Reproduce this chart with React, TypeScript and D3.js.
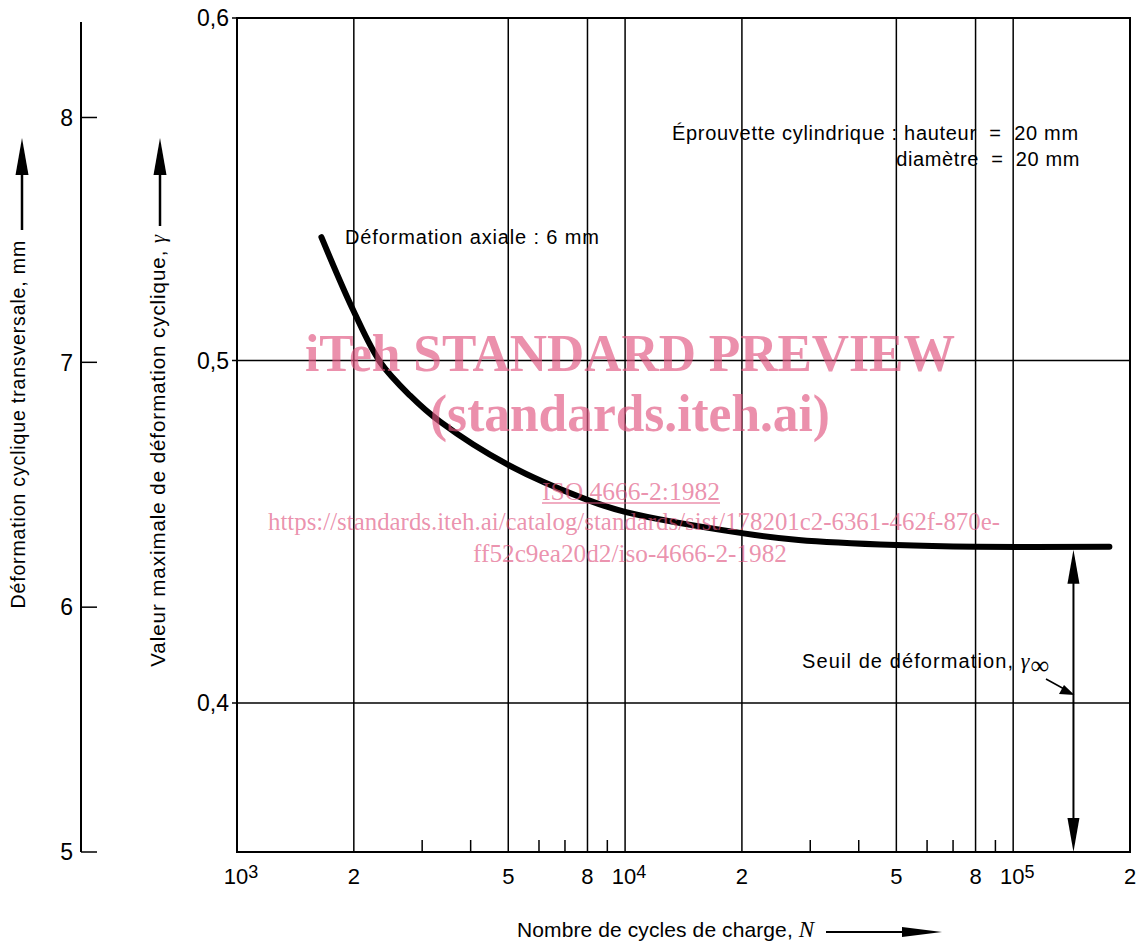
import { useEffect } from 'react'
import * as d3 from 'd3'

// curve: number of cycles N vs maximum cyclic strain γ
const cycles = [1650, 2000, 2340, 2790, 3330, 5000, 8000, 10000, 20000, 28000, 50000, 80000, 177000]
const gamma = [0.536, 0.5143, 0.4995, 0.4898, 0.4822, 0.4695, 0.4593, 0.4558, 0.4496, 0.4476, 0.4461, 0.4456, 0.4456]

const gridN = [2000, 5000, 8000, 10000, 20000, 50000, 80000, 100000]
const minorN = [3000, 4000, 6000, 7000, 9000, 30000, 40000, 60000, 70000, 90000]
const xLabels = [
  { v: 1000, t: '10', sup: '3' },
  { v: 2000, t: '2' },
  { v: 5000, t: '5' },
  { v: 8000, t: '8' },
  { v: 10000, t: '10', sup: '4' },
  { v: 20000, t: '2' },
  { v: 50000, t: '5' },
  { v: 80000, t: '8' },
  { v: 100000, t: '10', sup: '5' },
  { v: 200000, t: '2' },
]
const gammaTicks = [0.4, 0.5, 0.6]
const mmTicks = [5, 6, 7, 8]
const gammaInf = 0.4456
const gammaInfN = 143000

const W = 1140
const H = 946
const sans = '"Liberation Sans", Arial, Helvetica, sans-serif'
const serif = '"Liberation Serif", "Times New Roman", serif'
const wm = '#e0557f'

export default function App() {
  useEffect(() => {
    document.body.style.margin = '0'
  }, [])

  const x = d3.scaleLog().domain([1000, 200000]).range([237, 1130])
  const y = d3.scaleLinear().domain([0.3565, 0.6]).range([852, 18])
  const yMm = d3.scaleLinear().domain([5, 8.39]).range([852, 22])

  const pts: [number, number][] = cycles.map((n, i) => [x(n), y(gamma[i])])
  const curve = d3.line().curve(d3.curveCatmullRom.alpha(0.5))(pts) ?? ''

  const [x0, x1] = x.range()
  const [yb, yt] = y.range()
  const xa = x(gammaInfN)
  const ya = y(gammaInf)

  const tri = (cx: number, tip: number, dir: number, w = 6, h = 34) =>
    `M${cx},${tip} L${cx - w},${tip + dir * h} L${cx + w},${tip + dir * h} Z`

  return (
    <svg width={W} height={H} style={{ display: 'block', background: '#fff' }} fontFamily={sans}>
      {/* left mm axis */}
      <line x1={81} x2={81} y1={yMm(8.39)} y2={yMm(5)} stroke="#000" strokeWidth={2} />
      {mmTicks.map((t) => (
        <g key={t}>
          <line x1={81} x2={97} y1={yMm(t)} y2={yMm(t)} stroke="#000" strokeWidth={1.5} />
          <text x={73} y={yMm(t)} dy="0.36em" textAnchor="end" fontSize={23}>{t}</text>
        </g>
      ))}

      {/* grid */}
      {gridN.map((n) => (
        <line key={n} x1={x(n)} x2={x(n)} y1={yt} y2={yb} stroke="#000" strokeWidth={1.5} />
      ))}
      {minorN.map((n) => (
        <line key={n} x1={x(n)} x2={x(n)} y1={yb - 12} y2={yb} stroke="#000" strokeWidth={1.5} />
      ))}
      {gammaTicks.map((g) => (
        <g key={g}>
          <line x1={x0 - 5} x2={x1} y1={y(g)} y2={y(g)} stroke="#000" strokeWidth={1.5} />
          <text x={229} y={y(g)} dy="0.36em" textAnchor="end" fontSize={23}>{String(g).replace('.', ',')}</text>
        </g>
      ))}
      <rect x={x0} y={yt} width={x1 - x0} height={yb - yt} fill="none" stroke="#000" strokeWidth={2} />

      {/* x labels */}
      {xLabels.map((l) => (
        <text key={l.v} x={x(l.v) + (l.sup ? 4 : 0)} y={884} textAnchor="middle" fontSize={22}>
          {l.t}
          {l.sup && <tspan fontSize={18} dy={-6}>{l.sup}</tspan>}
        </text>
      ))}

      {/* axis titles */}
      <text x={517} y={937} fontSize={21} letterSpacing={0.1}>
        Nombre de cycles de charge, <tspan fontFamily={serif} fontStyle="italic" fontSize={23}>N</tspan>
      </text>
      <line x1={826} x2={905} y1={932} y2={932} stroke="#000" strokeWidth={2} />
      <path d="M942,932 L902,927 L902,937 Z" fill="#000" />

      <text transform="translate(25,240) rotate(-90)" textAnchor="end" fontSize={19.5} letterSpacing={0.85}>
        Déformation cyclique transversale, mm
      </text>
      <line x1={22} x2={22} y1={230} y2={170} stroke="#000" strokeWidth={2.5} />
      <path d={tri(22, 138, 1, 6.5, 37)} fill="#000" />

      <text transform="translate(165,234) rotate(-90)" textAnchor="end" fontSize={20.5} letterSpacing={0.95}>
        Valeur maximale de déformation cyclique, <tspan fontFamily={serif} fontStyle="italic">γ</tspan>
      </text>
      <line x1={160} x2={160} y1={226} y2={170} stroke="#000" strokeWidth={2.5} />
      <path d={tri(160, 138, 1, 6.5, 37)} fill="#000" />

      {/* annotations */}
      <text x={345} y={244} fontSize={20} letterSpacing={0.85}>Déformation axiale : 6 mm</text>
      <text x={672} y={140} fontSize={20} letterSpacing={0.7} xmlSpace="preserve">Éprouvette cylindrique : hauteur  =  20 mm</text>
      <text x={1080} y={166} fontSize={20} letterSpacing={0.6} textAnchor="end" xmlSpace="preserve">diamètre  =  20 mm</text>

      {/* curve */}
      <path d={curve} fill="none" stroke="#000" strokeWidth={6} strokeLinecap="round" />

      {/* threshold double arrow */}
      <line x1={xa} x2={xa} y1={ya + 20} y2={yb - 20} stroke="#000" strokeWidth={2} />
      <path d={tri(xa, ya + 3, 1)} fill="#000" />
      <path d={tri(xa, yb, -1)} fill="#000" />
      <text x={802} y={668} fontSize={20} letterSpacing={1.1}>
        Seuil de déformation, <tspan fontFamily={serif} fontStyle="italic" fontSize={22}>γ</tspan>
        <tspan fontFamily={serif} fontSize={26} dy={6} letterSpacing={0}>∞</tspan>
      </text>
      <line x1={1046} x2={1066} y1={679} y2={690} stroke="#000" strokeWidth={1.5} />
      <path d={`M${xa + 1},695 L1059,694 L1064,685 Z`} fill="#000" />

      {/* watermark */}
      <g fill={wm} fillOpacity={0.65} fontFamily={serif} textAnchor="middle">
        <text x={630} y={371} fontSize={53} fontWeight="bold" textLength={650} lengthAdjust="spacingAndGlyphs">iTeh STANDARD PREVIEW</text>
        <text x={630} y={431} fontSize={53} fontWeight="bold" textLength={400} lengthAdjust="spacingAndGlyphs">(standards.iteh.ai)</text>
        <text x={631} y={500} fontSize={25} textLength={178} lengthAdjust="spacingAndGlyphs">ISO 4666-2:1982</text>
        <text x={634} y={530} fontSize={25} textLength={732} lengthAdjust="spacingAndGlyphs">https://standards.iteh.ai/catalog/standards/sist/178201c2-6361-462f-870e-</text>
        <text x={630} y={562} fontSize={25} textLength={314} lengthAdjust="spacingAndGlyphs">ff52c9ea20d2/iso-4666-2-1982</text>
      </g>
      <line x1={542} x2={720} y1={503} y2={503} stroke={wm} strokeOpacity={0.65} strokeWidth={1.5} />
    </svg>
  )
}
